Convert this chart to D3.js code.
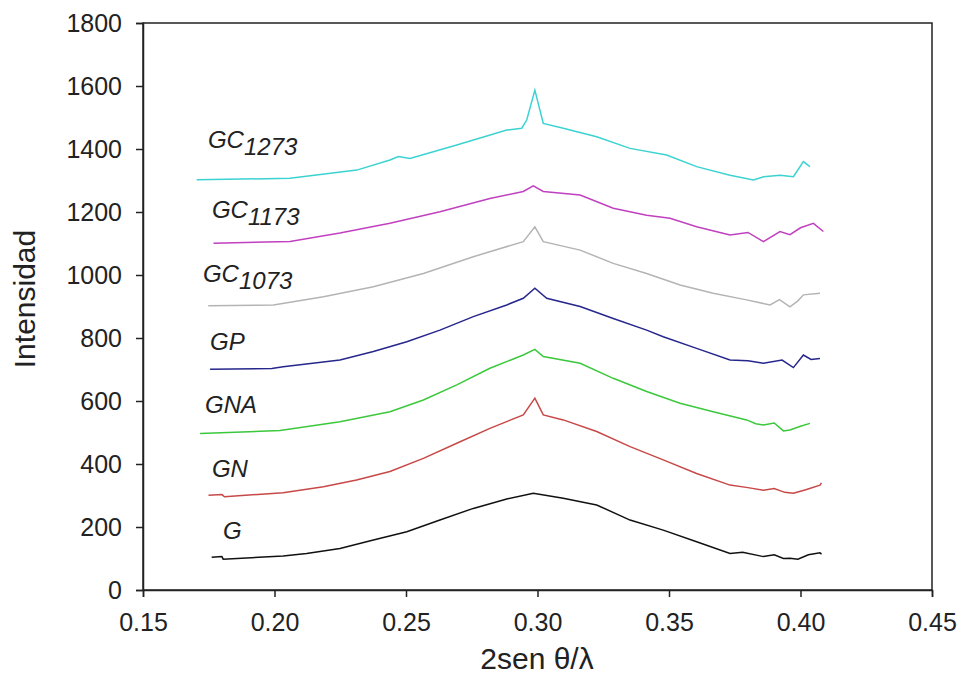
<!DOCTYPE html>
<html lang="es">
<head>
  <meta charset="UTF-8">
  <title>Intensidad vs 2sen θ/λ</title>
  <script src="https://d3js.org/d3.v7.min.js"></script>
  <style>
    body { margin: 0; background: #fff; }
    text { font-family: "Liberation Sans", Arial, sans-serif; fill: #222; }
    .tick text { font-size: 25px; }
    .lbl { font-size: 24px; font-style: italic; }
  </style>
</head>
<body>
  <svg width="962" height="694"></svg>

  <script>
    // datos (x = 2sen θ/λ, y = intensidad)
    let xG = [0.1761, 0.180, 0.1805, 0.2033, 0.2122, 0.2249, 0.2376, 0.2503, 0.2629, 0.2756, 0.2883, 0.2984, 0.3098, 0.3225, 0.3352, 0.3478, 0.3605, 0.3732, 0.3780, 0.3859, 0.3900, 0.3935, 0.3960, 0.3990, 0.4030, 0.4074, 0.4080];
    let yG = [104, 106, 98, 108, 116, 132, 159, 185, 222, 259, 289, 307, 291, 270, 222, 190, 153, 116, 120, 106, 112, 100, 101, 98, 112, 118, 114];

    let xGN = [0.1749, 0.1800, 0.1810, 0.2033, 0.2186, 0.2312, 0.2439, 0.2566, 0.2693, 0.2819, 0.2946, 0.2990, 0.3022, 0.3098, 0.3225, 0.3352, 0.3478, 0.3605, 0.3732, 0.3800, 0.3859, 0.3900, 0.3940, 0.3973, 0.4020, 0.4074, 0.4080];
    let yGN = [301, 303, 296, 309, 328, 349, 376, 418, 466, 513, 556, 609, 556, 540, 503, 455, 413, 370, 333, 325, 317, 322, 310, 307, 318, 333, 340];

    let xGNA = [0.1717, 0.2021, 0.2249, 0.2439, 0.2566, 0.2693, 0.2819, 0.2946, 0.2990, 0.3022, 0.3162, 0.3288, 0.3415, 0.3542, 0.3668, 0.3795, 0.3830, 0.3859, 0.3900, 0.3935, 0.3960, 0.4000, 0.4036];
    let yGNA = [497, 506, 534, 566, 603, 651, 704, 746, 764, 741, 720, 672, 630, 593, 566, 540, 528, 524, 530, 505, 508, 520, 529];

    let xGP = [0.1755, 0.1990, 0.2033, 0.2249, 0.2376, 0.2503, 0.2629, 0.2756, 0.2883, 0.2946, 0.2990, 0.3035, 0.3162, 0.3288, 0.3415, 0.3478, 0.3605, 0.3732, 0.3800, 0.3859, 0.3930, 0.3973, 0.4011, 0.4040, 0.4074];
    let yGP = [701, 703, 709, 730, 757, 788, 825, 868, 905, 926, 958, 926, 900, 862, 825, 804, 767, 730, 728, 720, 730, 706, 746, 732, 735];

    let xGC1073 = [0.1748, 0.1996, 0.2186, 0.2376, 0.2566, 0.2756, 0.2946, 0.2990, 0.3022, 0.3162, 0.3288, 0.3415, 0.3542, 0.3668, 0.3795, 0.3884, 0.3920, 0.3960, 0.3990, 0.4011, 0.4074];
    let yGC1073 = [902, 905, 931, 963, 1005, 1058, 1106, 1153, 1106, 1079, 1037, 1005, 968, 942, 921, 905, 922, 899, 918, 937, 942];

    let xGC1173 = [0.1768, 0.2059, 0.2249, 0.2439, 0.2629, 0.2819, 0.2946, 0.2984, 0.3022, 0.3162, 0.3288, 0.3415, 0.3504, 0.3605, 0.3732, 0.3800, 0.3859, 0.3922, 0.3960, 0.4000, 0.4049, 0.4087];
    let yGC1173 = [1101, 1106, 1133, 1164, 1201, 1243, 1265, 1283, 1265, 1254, 1212, 1190, 1180, 1153, 1127, 1135, 1106, 1138, 1128, 1150, 1164, 1138];

    let xGC1273 = [0.1704, 0.2059, 0.2313, 0.2439, 0.2471, 0.2515, 0.2693, 0.2883, 0.2940, 0.2959, 0.2990, 0.3022, 0.3098, 0.3225, 0.3352, 0.3491, 0.3605, 0.3732, 0.3821, 0.3860, 0.3922, 0.3973, 0.4011, 0.4036];
    let yGC1273 = [1302, 1307, 1333, 1365, 1376, 1370, 1413, 1460, 1466, 1492, 1587, 1481, 1466, 1439, 1402, 1381, 1344, 1317, 1302, 1312, 1317, 1312, 1360, 1344];

    let names = ["G", "GN", "GNA", "GP", "GC", "GC", "GC"];
    let subs = ["", "", "", "", "1073", "1173", "1273"];
    let colors = ["#111111", "#c84848", "#3cc83c", "#26268c", "#b4b4b4", "#c040c0", "#3cd2d2"];
    let xs = [xG, xGN, xGNA, xGP, xGC1073, xGC1173, xGC1273];
    let ys = [yG, yGN, yGNA, yGP, yGC1073, yGC1173, yGC1273];
    // posicion de cada etiqueta, en unidades de los ejes
    let labelX = [0.1804, 0.1762, 0.1736, 0.1755, 0.1728, 0.1762, 0.1747];
    let labelY = [162, 359, 562, 762, 978, 1181, 1403];

    let xTicks = [0.15, 0.20, 0.25, 0.30, 0.35, 0.40, 0.45];
    let yTicks = [0, 200, 400, 600, 800, 1000, 1200, 1400, 1600, 1800];

    let svg = d3.select("svg");
    let mLeft = 143, mRight = 932, mTop = 23, mBottom = 590;

    let x = d3.scaleLinear().domain([0.15, 0.45]).range([mLeft, mRight]);
    let y = d3.scaleLinear().domain([0, 1800]).range([mBottom, mTop]);

    let line = d3.line().x(d => x(d[0])).y(d => y(d[1]));

    xs.forEach((xv, i) => {
      let pts = xv.map((v, j) => [v, ys[i][j]]);
      svg.append("path")
        .attr("d", line(pts))
        .attr("fill", "none")
        .attr("stroke", colors[i])
        .attr("stroke-width", 1.5);

      let t = svg.append("text")
        .attr("class", "lbl")
        .attr("x", x(labelX[i]))
        .attr("y", y(labelY[i]))
        .text(names[i]);
      if (subs[i]) {
        t.append("tspan")
          .attr("dy", 7)
          .text(subs[i]);
      }
    });

    // marco
    svg.append("rect")
      .attr("x", mLeft)
      .attr("y", mTop)
      .attr("width", mRight - mLeft)
      .attr("height", mBottom - mTop)
      .attr("fill", "none")
      .attr("stroke", "#222")
      .attr("stroke-width", 1.5);

    let xAxis = svg.append("g")
      .attr("transform", "translate(0," + mBottom + ")")
      .call(d3.axisBottom(x).tickValues(xTicks).tickFormat(d3.format(".2f")).tickSize(7).tickPadding(16));
    let yAxis = svg.append("g")
      .attr("transform", "translate(" + mLeft + ",0)")
      .call(d3.axisLeft(y).tickValues(yTicks).tickFormat(d3.format("d")).tickSize(7).tickPadding(14));

    [xAxis, yAxis].forEach(a => {
      a.select(".domain").attr("stroke", "#222").attr("stroke-width", 1.5);
      a.selectAll(".tick line").attr("stroke", "#222").attr("stroke-width", 1.5);
      a.selectAll(".tick text").attr("fill", "#222").attr("font-family", "Liberation Sans, Arial, sans-serif");
    });

    svg.append("text")
      .attr("transform", "translate(35,299) rotate(-90)")
      .attr("text-anchor", "middle")
      .attr("font-size", 30)
      .text("Intensidad");

    svg.append("text")
      .attr("x", 537)
      .attr("y", 669)
      .attr("text-anchor", "middle")
      .attr("font-size", 30)
      .text("2sen θ/λ");
  </script>
</body>
</html>
